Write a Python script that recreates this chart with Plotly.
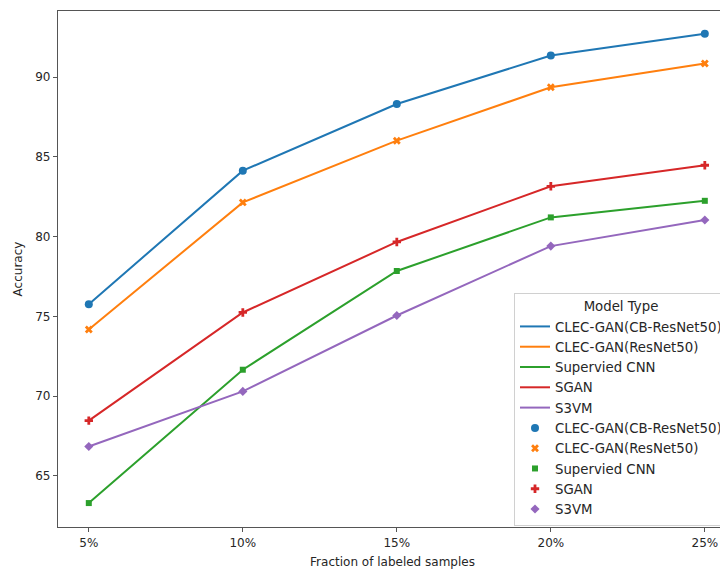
import plotly.graph_objects as go

fractions = [5, 10, 15, 20, 25]
tick_labels = ["5%", "10%", "15%", "20%", "25%"]
models = ["CLEC-GAN(CB-ResNet50)", "CLEC-GAN(ResNet50)", "Supervied CNN", "SGAN", "S3VM"]
cb_resnet = [75.77, 84.14, 88.32, 91.36, 92.72]
resnet = [74.18, 82.15, 86.02, 89.37, 90.86]
sup_cnn = [63.3, 71.66, 77.85, 81.21, 82.25]
sgan = [68.47, 75.25, 79.67, 83.16, 84.48]
s3vm = [66.85, 70.3, 75.06, 79.41, 81.05]
series = [cb_resnet, resnet, sup_cnn, sgan, s3vm]

colors = ["#1f77b4", "#ff7f0e", "#2ca02c", "#d62728", "#9467bd"]
symbols = ["circle", "x", "square", "cross", "diamond"]
sizes = [8, 7, 6, 7, 7]

fig = go.Figure()
for name, vals, c in zip(models, series, colors):
    fig.add_trace(go.Scatter(x=fractions, y=vals, mode="lines", name=name,
                             line=dict(color=c, width=2)))
for name, vals, c, s, sz in zip(models, series, colors, symbols, sizes):
    fig.add_trace(go.Scatter(x=fractions, y=vals, mode="markers", name=name,
                             marker=dict(color=c, symbol=s, size=sz,
                                         line=dict(width=0))))

axis_font = dict(family="DejaVu Sans", size=12, color="#262626")
# page body has an 8px margin; figure sized/offset to compensate
fig.update_layout(
    width=720, height=561,
    margin=dict(l=50, r=0, t=3, b=42),
    paper_bgcolor="white", plot_bgcolor="white",
    font=dict(family="DejaVu Sans", size=12, color="#262626"),
    showlegend=True,
    legend=dict(
        x=0.682, y=0.4535, xanchor="left", yanchor="top",
        bgcolor="rgba(255,255,255,0.85)", bordercolor="#d0d0d0", borderwidth=1,
        font=dict(family="DejaVu Sans", size=13.3, color="#262626"),
        title=dict(text="Model Type", side="top center",
                   font=dict(family="DejaVu Sans", size=13.3, color="#262626")),
        itemwidth=30, tracegroupgap=0,
    ),
    xaxis=dict(
        range=[4, 25.72], tickmode="array", tickvals=fractions, ticktext=tick_labels,
        showgrid=False, zeroline=False, showline=True, linecolor="#555555", linewidth=1.2,
        mirror=True, ticks="outside", ticklen=4, tickcolor="#555555",
        tickfont=axis_font, automargin=False,
        title=dict(text="Fraction of labeled samples", font=axis_font, standoff=12),
    ),
    yaxis=dict(
        range=[61.8, 94.15], tickmode="array", tickvals=[65, 70, 75, 80, 85, 90],
        showgrid=False, zeroline=False, showline=True, linecolor="#555555", linewidth=1.2,
        mirror=False, ticks="outside", ticklen=4, tickcolor="#555555",
        tickfont=axis_font, automargin=False,
        title=dict(text="Accuracy", font=axis_font, standoff=10),
    ),
)

fig.write_html("out.html")
